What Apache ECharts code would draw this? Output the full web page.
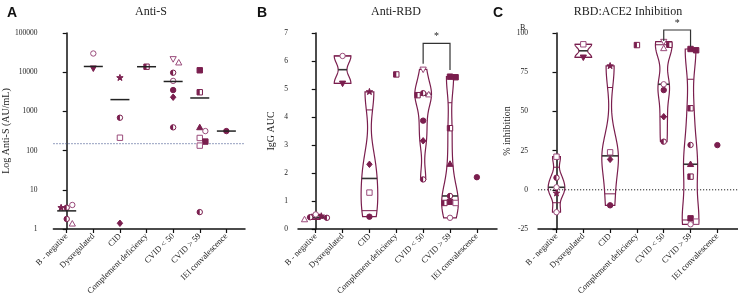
<!DOCTYPE html>
<html>
<head>
<meta charset="utf-8">
<script src="https://cdn.jsdelivr.net/npm/echarts@6/dist/echarts.min.js"></script>
<style>
  html, body { margin: 0; padding: 0; background: #fff; }
  #chart { width: 738px; height: 300px; }
</style>
</head>
<body>
<div id="chart"></div>
<script>
const categories = ['B - negative', 'Dysregulated', 'CID', 'Complement deficiency', 'CVID < 50', 'CVID > 59', 'IEI convalescence'];

// A: Anti-S (AU/mL), one list per group
const antiS = [
  [3.5, 4.1, 3.5, 1.8, 1.36],
  [30000, 12600],
  [7200, 690, 213, 1.4],
  [13800],
  [21800, 17500, 9700, 6000, 3500, 2300, 392],
  [11200, 3080, 390, 315, 210, 170, 134, 2.7],
  [315]
];
const antiSMarks = ['hoxht', 'ov', 'xhsd', 'q', 'VthoOdh', 'SqTosSsh', 'O'];
const antiSLine = [2.9, 14000, 2000, 13800, 5800, 2200, 315];
const antiSCutoff = 150;
const antiSTicks = [1, 10, 100, 1000, 10000, 100000];

// B: Anti-RBD IgG AUC
const antiRBD = [
  [0.52, 0.46, 0.42, 0.40, 0.34],
  [6.18, 5.2],
  [4.9, 2.31, 1.30, 0.44],
  [5.52],
  [5.70, 4.85, 4.80, 4.78, 3.87, 3.15, 1.77],
  [5.44, 5.42, 3.60, 2.32, 1.18, 0.97, 0.93, 0.93, 0.40],
  [1.85]
];
const antiRBDMarks = ['oxhht', 'ov', 'xdsO', 'q', 'VhtqOdh', 'SSqThSsqo', 'O'];
const bracketB = [4, 5, 6.63, 5.9, 5.68];

// C: RBD:ACE2 inhibition (%)
const ace2 = [
  [21.1, 7.7, 1.6, -2.2, -14.3],
  [92.8, 84.5],
  [79, 23.9, 19.4, -9.9],
  [92.3],
  [94.5, 92.5, 90.2, 67.3, 63.6, 46.6, 30.7],
  [89.8, 89.0, 52, 28.6, 16.3, 8.4, -18.2, -20.3, -22],
  [28.5]
];
const ace2Marks = ['shoxo', 'sv', 'xsdO', 'q', 'VqtoOdh', 'SSqhTqSso', 'O'];
const bracketC = [4, 5, 101.9, 94.9, 91.3];

const MAROON = '#7a1e4e';
const OPEN = '#9a4b7b';
const SERIF = '"Liberation Serif", "DejaVu Serif", serif';
const SANS = '"Liberation Sans", Arial, sans-serif';
const R = 2.7;
const SWARM = 5.6;

function markShapes(code, x, y) {
  const dark = { fill: MAROON, stroke: MAROON, lineWidth: 1 };
  const hollow = { fill: '#fff', stroke: OPEN, lineWidth: 1 };
  const tri = [[x, y - R * 1.2], [x + R * 1.15, y + R * 0.85], [x - R * 1.15, y + R * 0.85]];
  const triDown = [[x, y + R * 1.2], [x + R * 1.15, y - R * 0.85], [x - R * 1.15, y - R * 0.85]];
  switch (code) {
    case 'O': return [{ type: 'circle', shape: { cx: x, cy: y, r: R }, style: dark }];
    case 'o': return [{ type: 'circle', shape: { cx: x, cy: y, r: R }, style: hollow }];
    case 'h': return [
      { type: 'circle', shape: { cx: x, cy: y, r: R }, style: { fill: '#fff', stroke: MAROON, lineWidth: 1 } },
      { type: 'sector', shape: { cx: x, cy: y, r0: 0, r: R, startAngle: Math.PI / 2, endAngle: Math.PI * 1.5, clockwise: true }, style: { fill: MAROON } }
    ];
    case 'S': return [{ type: 'rect', shape: { x: x - R, y: y - R, width: 2 * R, height: 2 * R }, style: dark }];
    case 's': return [{ type: 'rect', shape: { x: x - R, y: y - R, width: 2 * R, height: 2 * R }, style: hollow }];
    case 'q': return [
      { type: 'rect', shape: { x: x - R, y: y - R, width: 2 * R, height: 2 * R }, style: { fill: '#fff', stroke: MAROON, lineWidth: 1 } },
      { type: 'rect', shape: { x: x - R, y: y - R, width: R, height: 2 * R }, style: { fill: MAROON } }
    ];
    case 'T': return [{ type: 'polygon', shape: { points: tri }, style: dark }];
    case 't': return [{ type: 'polygon', shape: { points: tri }, style: hollow }];
    case 'v': return [{ type: 'polygon', shape: { points: triDown }, style: dark }];
    case 'V': return [{ type: 'polygon', shape: { points: triDown }, style: hollow }];
    case 'd': return [{ type: 'polygon', shape: { points: [[x, y - R * 1.2], [x + R, y], [x, y + R * 1.2], [x - R, y]] }, style: dark }];
    case 'x': {
      const pts = [];
      for (let k = 0; k < 10; k++) {
        const a = -Math.PI / 2 + k * Math.PI / 5;
        const rr = k % 2 ? R * 0.5 : R * 1.25;
        pts.push([x + rr * Math.cos(a), y + rr * Math.sin(a)]);
      }
      return [{ type: 'polygon', shape: { points: pts }, style: dark }];
    }
  }
  return [];
}

function pointItems(groups) {
  const out = [];
  groups.forEach((vals, g) => vals.forEach((v, i) => out.push([g, v, i])));
  return out;
}

// simple beeswarm so overlapping points sit side by side
function swarmOffset(vals, idx, api) {
  const ys = vals.map(v => api.coord([0, v])[1]);
  const placed = [];
  for (let i = 0; i <= idx; i++) {
    let off = 0;
    for (let k = 0; k < 40; k++) {
      const cand = k === 0 ? 0 : (k % 2 ? 1 : -1) * Math.ceil(k / 2) * SWARM;
      if (placed.every(p => Math.hypot(p[0] - cand, p[1] - ys[i]) >= SWARM)) { off = cand; break; }
    }
    placed.push([off, ys[i]]);
  }
  return placed[idx][0];
}

function pointSeries(groups, marks, axis) {
  const items = pointItems(groups);
  return {
    type: 'custom', xAxisIndex: axis, yAxisIndex: axis, z: 5,
    data: items.map(d => [d[0], d[1]]),
    encode: { x: 0, y: 1 },
    renderItem: (params, api) => {
      const it = items[params.dataIndex];
      const p = api.coord([it[0], it[1]]);
      const dx = swarmOffset(groups[it[0]], it[2], api);
      return { type: 'group', children: markShapes(marks[it[0]][it[2]], p[0] + dx, p[1]) };
    }
  };
}

function quantile(sorted, q) {
  const n = sorted.length, pos = (n + 1) * q, lo = Math.floor(pos);
  if (lo < 1) return sorted[0];
  if (lo >= n) return sorted[n - 1];
  return sorted[lo - 1] + (pos - lo) * (sorted[lo] - sorted[lo - 1]);
}

function kde(vals, h, t) {
  let s = 0;
  vals.forEach(v => { const z = (t - v) / h; s += Math.exp(-0.5 * z * z); });
  return s;
}

function violinSeries(groups, axis) {
  const idx = groups.map((v, g) => g).filter(g => groups[g].length > 1);
  return {
    type: 'custom', xAxisIndex: axis, yAxisIndex: axis, z: 3,
    data: idx.map(g => [g, Math.min(...groups[g]), Math.max(...groups[g])]),
    encode: { x: 0, y: [1, 2] },
    renderItem: (params, api) => {
      const g = idx[params.dataIndex];
      const vals = groups[g].slice().sort((a, b) => a - b);
      const n = vals.length;
      const mean = vals.reduce((a, b) => a + b, 0) / n;
      const sd = Math.sqrt(vals.reduce((a, b) => a + (b - mean) * (b - mean), 0) / (n - 1)) || 0.01;
      const h = 0.5 * sd * Math.pow(n, -0.2);
      const lo = vals[0], hi = vals[n - 1];
      const steps = 60;
      const dens = [];
      for (let k = 0; k <= steps; k++) {
        const t = lo + (hi - lo) * k / steps;
        dens.push([t, kde(vals, h, t)]);
      }
      const maxD = Math.max(...dens.map(d => d[1]));
      const halfW = api.size([1, 0])[0] * 0.31;
      const cx = api.coord([g, 0])[0];
      const widthAt = t => halfW * kde(vals, h, t) / maxD;
      const left = [], right = [];
      dens.forEach(d => {
        const y = api.coord([g, d[0]])[1];
        const w = halfW * d[1] / maxD;
        left.push([cx - w, y]);
        right.unshift([cx + w, y]);
      });
      const children = [{
        type: 'polygon', shape: { points: left.concat(right) },
        style: { fill: 'rgba(0,0,0,0)', stroke: MAROON, lineWidth: 1.2 }
      }];
      [0.25, 0.75].forEach(q => {
        const v = quantile(vals, q), y = api.coord([g, v])[1], w = widthAt(v);
        children.push({ type: 'line', shape: { x1: cx - w, y1: y, x2: cx + w, y2: y }, style: { stroke: MAROON, lineWidth: 1 } });
      });
      const med = quantile(vals, 0.5), my = api.coord([g, med])[1], mw = widthAt(med);
      children.push({ type: 'line', z2: 10, shape: { x1: cx - mw, y1: my, x2: cx + mw, y2: my }, style: { stroke: '#333', lineWidth: 1.6 } });
      return { type: 'group', children };
    }
  };
}

function centerLineSeries(lines, axis) {
  return {
    type: 'custom', xAxisIndex: axis, yAxisIndex: axis, z: 6,
    data: lines.map((v, g) => [g, v]),
    encode: { x: 0, y: 1 },
    renderItem: (params, api) => {
      const p = api.coord([api.value(0), api.value(1)]);
      return { type: 'line', shape: { x1: p[0] - 9.5, y1: p[1], x2: p[0] + 9.5, y2: p[1] }, style: { stroke: '#222', lineWidth: 1.5 } };
    }
  };
}

function refLineSeries(value, axis, color) {
  return {
    type: 'custom', xAxisIndex: axis, yAxisIndex: axis, z: 2,
    data: [[0, value]],
    encode: { x: 0, y: 1 },
    renderItem: (params, api) => {
      const cs = params.coordSys;
      const y = api.coord([0, api.value(1)])[1];
      return { type: 'line', shape: { x1: cs.x, y1: y, x2: cs.x + cs.width, y2: y }, style: { stroke: color, lineWidth: 1, lineDash: [1.2, 1.8] } };
    }
  };
}

function bracketSeries(b, axis) {
  return {
    type: 'custom', xAxisIndex: axis, yAxisIndex: axis, z: 6, clip: false,
    data: [[b[0], b[2]]],
    encode: { x: 0, y: 1 },
    renderItem: (params, api) => {
      const pl = api.coord([b[0], b[3]]), pr = api.coord([b[1], b[4]]);
      const top = api.coord([b[0], b[2]])[1];
      return {
        type: 'group', children: [
          { type: 'polyline', shape: { points: [[pl[0], pl[1]], [pl[0], top], [pr[0], top], [pr[0], pr[1]]] }, style: { stroke: '#333', lineWidth: 1.2, fill: null } },
          { type: 'text', style: { x: (pl[0] + pr[0]) / 2, y: top - 2, text: '*', textAlign: 'center', textVerticalAlign: 'bottom', font: '10px ' + SERIF, fill: '#222' } }
        ]
      };
    }
  };
}

function xAxisFor(grid, min, max) {
  const ticks = categories.map((c, i) => i);
  return {
    type: 'value', gridIndex: grid, min, max,
    axisLine: { show: true, onZero: false, lineStyle: { color: '#111', width: 1.5 } },
    axisTick: { show: true, customValues: ticks, length: 4, lineStyle: { color: '#111', width: 1.2 } },
    axisLabel: {
      customValues: ticks, rotate: 45, margin: 6, fontSize: 8.5, fontFamily: SERIF, color: '#222',
      formatter: v => categories[Math.round(v)]
    },
    splitLine: { show: false }
  };
}

function yAxisBase(grid, name, gap, margin) {
  return {
    gridIndex: grid, name, nameLocation: 'middle', nameGap: gap,
    nameTextStyle: { fontFamily: SERIF, fontSize: 10, color: '#222' },
    axisLine: { show: true, lineStyle: { color: '#111', width: 1.5 } },
    axisTick: { show: true, length: 4, lineStyle: { color: '#111', width: 1.2 } },
    axisLabel: { fontSize: 7.5, fontFamily: SERIF, color: '#222', margin },
    splitLine: { show: false }
  };
}

const chart = echarts.init(document.getElementById('chart'), null, { renderer: 'canvas' });

const yA = yAxisBase(0, 'Log Anti-S (AU/mL)', 29, 16);
yA.axisLabel.formatter = v => String(Math.round(v));

const option = {
  animation: false,
  backgroundColor: '#fff',
  title: [
    { text: 'A', left: 2, top: 1, textStyle: { fontFamily: SANS, fontWeight: 'bold', fontSize: 14, color: '#111' } },
    { text: 'B', left: 252, top: 1, textStyle: { fontFamily: SANS, fontWeight: 'bold', fontSize: 14, color: '#111' } },
    { text: 'C', left: 488, top: 1, textStyle: { fontFamily: SANS, fontWeight: 'bold', fontSize: 14, color: '#111' } },
    { text: 'Anti-S', left: 146, top: 1, textAlign: 'center', textStyle: { fontFamily: SERIF, fontWeight: 'normal', fontSize: 12, color: '#222' } },
    { text: 'Anti-RBD', left: 391, top: 1, textAlign: 'center', textStyle: { fontFamily: SERIF, fontWeight: 'normal', fontSize: 12, color: '#222' } },
    { text: 'RBD:ACE2 Inhibition', left: 623, top: 1, textAlign: 'center', textStyle: { fontFamily: SERIF, fontWeight: 'normal', fontSize: 12, color: '#222' } },
    { text: 'B', left: 515, top: 19, textStyle: { fontFamily: SERIF, fontWeight: 'normal', fontSize: 8, color: '#222' } }
  ],
  grid: [
    { left: 48, top: 33, width: 197, height: 196 },
    { left: 298, top: 33, width: 199, height: 196 },
    { left: 538, top: 33, width: 200, height: 196 }
  ],
  xAxis: [
    xAxisFor(0, -0.5, 6.7),
    xAxisFor(1, -0.66, 6.75),
    xAxisFor(2, -0.69, 6.77)
  ],
  yAxis: [
    Object.assign(yA, {
      type: 'log', logBase: 10, min: antiSTicks[0], max: antiSTicks[antiSTicks.length - 1]
    }),
    Object.assign(yAxisBase(1, 'IgG AUC', 22, 10), { type: 'value', min: 0, max: 7, interval: 1 }),
    Object.assign(yAxisBase(2, '% inhibition', 24, 10), { type: 'value', min: -25, max: 100, interval: 25 })
  ],
  series: [
    refLineSeries(antiSCutoff, 0, '#4e5f94'),
    centerLineSeries(antiSLine, 0),
    pointSeries(antiS, antiSMarks, 0),

    violinSeries(antiRBD, 1),
    pointSeries(antiRBD, antiRBDMarks, 1),
    bracketSeries(bracketB, 1),

    refLineSeries(0, 2, '#222'),
    violinSeries(ace2, 2),
    pointSeries(ace2, ace2Marks, 2),
    bracketSeries(bracketC, 2)
  ]
};

chart.setOption(option);
</script>
</body>
</html>
